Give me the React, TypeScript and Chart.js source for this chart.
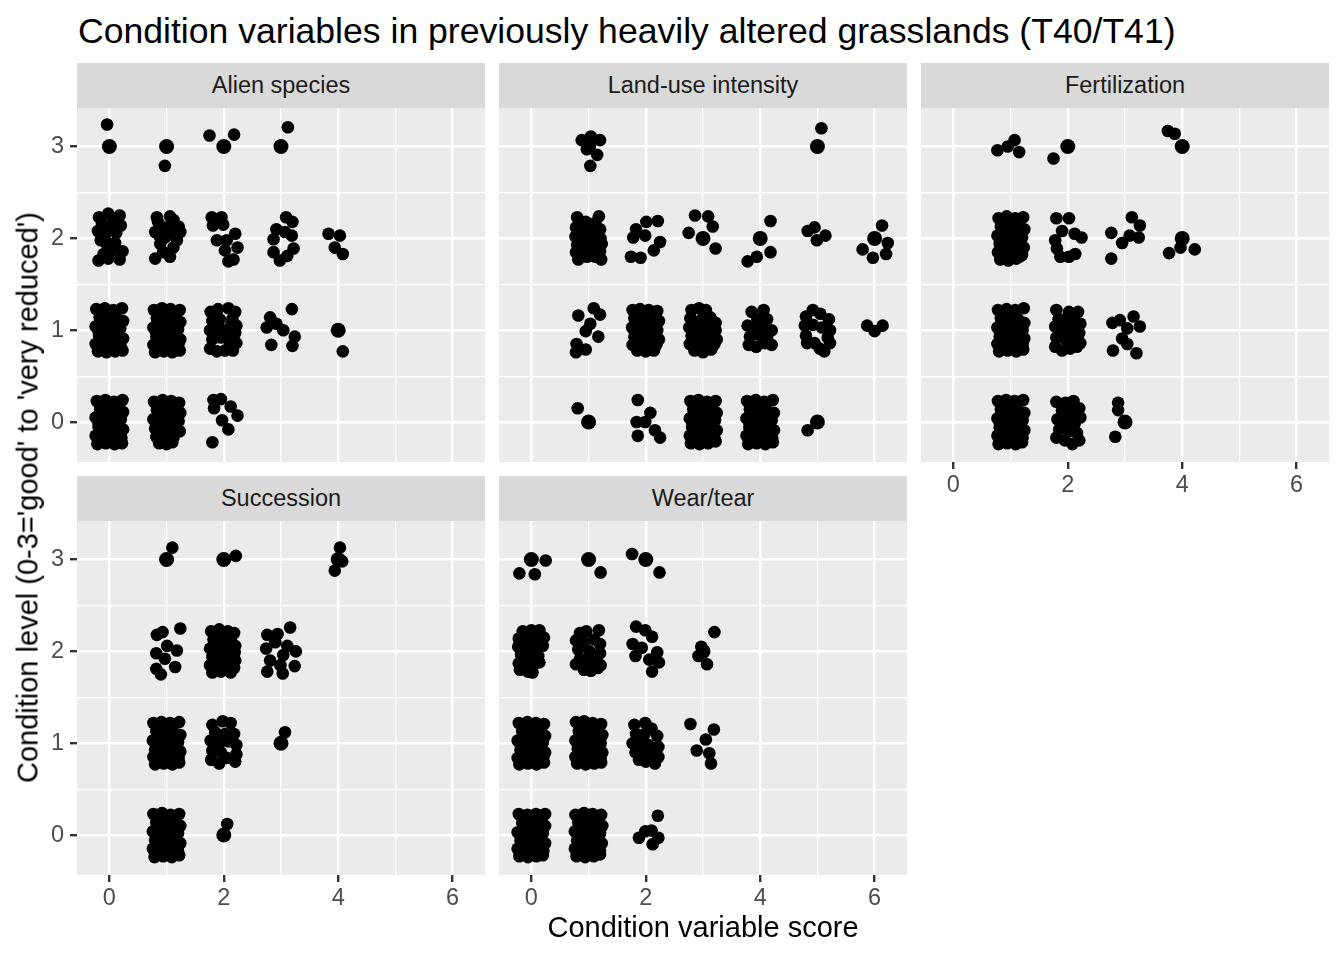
import React, { useEffect, useRef } from "react";
import { Chart, registerables } from "chart.js";

Chart.register(...registerables);

// ---------------- DATA ----------------
const facetNames = ["Alien species", "Land-use intensity", "Fertilization", "Succession", "Wear/tear"];
const xMajorTicks = [0, 2, 4, 6];
const xAllTicks = [0, 1, 2, 3, 4, 5, 6];
const yMajorTicks = [0, 1, 2, 3];
const yAllTicks = [0, 0.5, 1, 1.5, 2, 2.5, 3];
const xRange = [-0.566, 6.566];
const yRange = [-0.435, 3.42];
const titleText = "Condition variables in previously heavily altered grasslands (T40/T41)";
const xTitleText = "Condition variable score";
const yTitleText = "Condition level (0-3='good' to 'very reduced')";

type P = [number, number];

const alienExact: P[] = [[0, 3], [1, 3], [2, 3], [3, 3], [4, 1]];
const alienJitter: P[] = [
  [-0.04, 3.24], [0.97, 2.79], [1.75, 3.12], [2.18, 3.13], [3.12, 3.21],
  [-0.18, 2.23], [-0.02, 2.27], [0.18, 2.25], [-0.13, 2.16], [0.07, 2.18], [-0.15, 1.98], [0.12, 2.06], [-0.05, 1.94], [0.23, 1.86], [0.04, 1.87], [-0.19, 1.76], [-0.02, 1.78], [0.18, 1.77], [-0.1, 1.83],
  [0.0, 2.1], [-0.2, 2.08], [0.2, 2.14], [0.1, 1.95], [-0.08, 2.02],
  [0.83, 2.23], [1.06, 2.24], [1.21, 2.13], [0.8, 2.07], [0.94, 2.12], [1.18, 1.98], [0.89, 1.94], [1.12, 1.9], [0.8, 1.78], [1.06, 1.8], [0.97, 2.01], [1.24, 2.07],
  [0.85, 2.18], [1.12, 2.2], [1.03, 2.12], [0.88, 2.02], [1.15, 2.05], [0.94, 1.85],
  [1.79, 2.23], [1.96, 2.23], [1.81, 2.14], [1.99, 2.15], [1.88, 1.98], [2.05, 1.98], [2.2, 2.05], [2.24, 1.9], [2.08, 1.75], [2.17, 1.77], [2.02, 1.87],
  [3.09, 2.23], [3.2, 2.18], [2.92, 2.1], [3.07, 2.07], [2.87, 1.99], [3.19, 2.03], [3.22, 1.89], [2.87, 1.85], [2.98, 1.76], [3.11, 1.81],
  [3.83, 2.05], [4.03, 2.03], [3.94, 1.9], [4.08, 1.83],
  [-0.23, 1.23], [-0.08, 1.24], [0.07, 1.22], [0.22, 1.24], [-0.17, 1.14], [-0.02, 1.15], [0.13, 1.13], [0.24, 1.1], [-0.24, 1.04], [-0.1, 1.05], [0.05, 1.03], [0.19, 1.02], [-0.18, 0.94], [-0.03, 0.95], [0.12, 0.93], [0.24, 0.91], [-0.24, 0.85], [-0.09, 0.86], [0.06, 0.84], [0.2, 0.82], [-0.2, 0.77], [-0.05, 0.76], [0.1, 0.77], [0.23, 0.78],
  [-0.13, 1.09], [0.02, 1.09], [0.17, 1.08], [-0.19, 0.99], [-0.05, 0.99], [0.1, 0.99], [-0.16, 1.19], [0.15, 0.8],
  [0.78, 1.22], [0.92, 1.24], [1.07, 1.23], [1.23, 1.22], [0.83, 1.13], [0.98, 1.15], [1.12, 1.12], [1.24, 1.09], [0.77, 1.03], [0.9, 1.05], [1.05, 1.02], [1.2, 1.01], [0.82, 0.93], [0.97, 0.95], [1.13, 0.92], [1.24, 0.9], [0.77, 0.84], [0.91, 0.86], [1.06, 0.83], [1.21, 0.85], [0.8, 0.76], [0.95, 0.77], [1.1, 0.76], [1.23, 0.78],
  [0.87, 1.09], [1.02, 1.09], [1.17, 1.08], [0.81, 0.99], [0.95, 0.99], [1.1, 0.99], [0.84, 1.19], [1.15, 0.8],
  [1.77, 1.2], [1.9, 1.23], [2.08, 1.24], [2.2, 1.2], [1.8, 1.1], [1.93, 1.12], [2.15, 1.12], [2.22, 1.05], [1.76, 1.0], [1.92, 1.03], [2.06, 1.0], [2.2, 0.97], [1.8, 0.9], [1.95, 0.92], [2.1, 0.88], [2.22, 0.86], [1.76, 0.8], [1.88, 0.77], [2.02, 0.78], [2.16, 0.78],
  [1.87, 1.05], [2.13, 1.06], [1.82, 0.96], [1.98, 0.96], [2.13, 0.95], [2.08, 0.8],
  [2.81, 1.14], [2.92, 1.07], [3.04, 1.0], [2.75, 1.03], [3.19, 1.23], [3.24, 0.93], [3.2, 0.83], [2.83, 0.84],
  [4.08, 0.77],
  [-0.22, 0.23], [-0.07, 0.24], [0.08, 0.22], [0.23, 0.24], [-0.16, 0.14], [-0.01, 0.15], [0.14, 0.13], [0.24, 0.11], [-0.24, 0.05], [-0.1, 0.04], [0.05, 0.03], [0.2, 0.03], [-0.19, -0.05], [-0.04, -0.06], [0.11, -0.05], [0.24, -0.08], [-0.24, -0.15], [-0.08, -0.14], [0.07, -0.16], [0.21, -0.17], [-0.21, -0.24], [-0.06, -0.23], [0.09, -0.24], [0.22, -0.23],
  [-0.13, 0.09], [0.02, 0.09], [0.17, 0.08], [-0.19, -0.01], [-0.05, -0.01], [0.1, -0.01], [-0.16, 0.19], [0.15, -0.2],
  [0.78, 0.22], [0.93, 0.24], [1.08, 0.23], [1.22, 0.21], [0.83, 0.13], [0.98, 0.15], [1.13, 0.12], [1.24, 0.1], [0.77, 0.03], [0.91, 0.05], [1.06, 0.02], [1.21, 0.01], [0.8, -0.07], [0.95, -0.05], [1.1, -0.08], [1.23, -0.1], [0.82, -0.16], [0.97, -0.15], [1.12, -0.17], [0.87, -0.23], [1.0, -0.24], [1.1, -0.22],
  [0.87, 0.09], [1.02, 0.09], [1.17, 0.08], [0.81, -0.01], [0.95, -0.01], [1.1, -0.01], [0.84, 0.19], [1.05, -0.2],
  [1.82, 0.24], [1.95, 0.25], [2.12, 0.17], [2.24, 0.07], [1.97, 0.02], [2.08, -0.08], [1.8, -0.22], [1.83, 0.15],
];

const landExact: P[] = [[1, 3], [5, 3], [3, 2], [4, 2], [6, 2], [1, 0], [5, 0]];
const landJitter: P[] = [
  [0.88, 3.07], [1.04, 3.11], [1.2, 3.07], [0.97, 2.97], [1.15, 2.91], [1.03, 2.79], [5.07, 3.2],
  [0.8, 2.23], [1.18, 2.24], [0.95, 2.18], [0.78, 2.12], [0.9, 2.13], [1.05, 2.12], [1.2, 2.1], [0.77, 2.02], [0.92, 2.03], [1.07, 2.01], [1.21, 2.0], [0.8, 1.93], [0.95, 1.95], [1.1, 1.92], [1.23, 1.94], [0.78, 1.85], [0.93, 1.86], [1.08, 1.84], [1.2, 1.86], [0.82, 1.77], [0.97, 1.8], [1.22, 1.77],
  [0.87, 2.07], [1.02, 2.07], [1.15, 2.06], [0.86, 1.97], [1.0, 1.98], [1.15, 1.98], [1.12, 2.17], [1.12, 1.8],
  [2.01, 2.18], [2.21, 2.19], [1.83, 2.1], [1.78, 2.01], [1.99, 2.03], [2.25, 1.96], [2.14, 1.87], [1.74, 1.8], [1.91, 1.79],
  [2.86, 2.25], [3.09, 2.24], [3.17, 2.13], [2.75, 2.06], [3.22, 1.89],
  [4.18, 2.19], [4.18, 1.85], [3.94, 1.8], [3.78, 1.75],
  [4.83, 2.08], [4.95, 2.12], [5.14, 2.03], [4.99, 1.98],
  [6.13, 2.14], [6.23, 1.95], [5.79, 1.88], [5.97, 1.79], [6.2, 1.83],
  [0.82, 1.16], [1.09, 1.24], [1.2, 1.17], [1.03, 1.07], [0.95, 0.99], [1.17, 0.93], [0.79, 0.85], [0.95, 0.79], [0.78, 0.76],
  [1.77, 1.22], [1.9, 1.23], [2.05, 1.22], [2.2, 1.21], [1.8, 1.13], [1.95, 1.14], [2.1, 1.12], [2.23, 1.1], [1.76, 1.03], [1.9, 1.05], [2.05, 1.02], [2.2, 1.0], [1.8, 0.93], [1.95, 0.95], [2.1, 0.92], [2.23, 0.9], [1.77, 0.84], [1.91, 0.86], [2.06, 0.83], [2.19, 0.85], [1.85, 0.78], [2.0, 0.77], [2.14, 0.78],
  [1.87, 1.09], [2.02, 1.09], [2.17, 1.08], [1.81, 0.99], [1.95, 0.99], [2.1, 0.99], [1.84, 1.19], [2.15, 0.8],
  [2.8, 1.22], [2.93, 1.24], [3.05, 1.22], [2.78, 1.13], [2.98, 1.12], [3.13, 1.14], [3.22, 1.08], [2.76, 1.03], [2.9, 1.05], [3.05, 1.02], [3.22, 1.0], [2.8, 0.94], [2.95, 0.95], [3.1, 0.92], [3.24, 0.9], [2.77, 0.85], [2.91, 0.86], [3.06, 0.83], [3.2, 0.85], [2.85, 0.78], [3.0, 0.76], [3.14, 0.79],
  [2.87, 1.09], [3.02, 1.09], [3.17, 1.08], [2.81, 0.99], [2.95, 0.99], [3.1, 0.99], [3.15, 0.8],
  [3.85, 1.2], [4.06, 1.22], [3.95, 1.12], [4.12, 1.12], [3.78, 1.05], [3.9, 1.02], [4.05, 1.04], [4.2, 1.0], [3.82, 0.93], [3.98, 0.95], [4.12, 0.92], [3.8, 0.84], [3.93, 0.82], [4.08, 0.86], [4.2, 0.84],
  [4.92, 1.22], [5.05, 1.18], [4.8, 1.15], [5.2, 1.12], [4.78, 1.05], [4.92, 1.06], [5.08, 1.03], [5.22, 1.0], [4.8, 0.94], [5.18, 0.92], [5.22, 0.86], [4.82, 0.86], [4.95, 0.86], [5.04, 0.8], [5.12, 0.77],
  [5.87, 1.05], [6.0, 0.99], [6.14, 1.05],
  [0.81, 0.15],
  [1.86, 0.24], [2.08, 0.1], [1.84, 0.0], [1.99, 0.0], [2.16, -0.09], [1.86, -0.15], [2.25, -0.17],
  [2.78, 0.23], [2.92, 0.24], [3.07, 0.22], [3.22, 0.23], [2.83, 0.14], [2.98, 0.15], [3.13, 0.13], [3.24, 0.1], [2.77, 0.04], [2.91, 0.05], [3.06, 0.03], [3.21, 0.02], [2.81, -0.06], [2.96, -0.05], [3.11, -0.07], [3.24, -0.09], [2.77, -0.15], [2.91, -0.14], [3.06, -0.16], [3.2, -0.17], [2.79, -0.23], [2.94, -0.24], [3.09, -0.23], [3.22, -0.21],
  [2.87, 0.09], [3.02, 0.09], [3.17, 0.08], [2.81, -0.01], [2.95, -0.01], [3.1, -0.01], [2.84, 0.19], [3.15, -0.2],
  [3.77, 0.23], [3.92, 0.24], [4.07, 0.22], [4.22, 0.24], [3.82, 0.14], [3.97, 0.15], [4.12, 0.13], [4.24, 0.1], [3.76, 0.04], [3.9, 0.05], [4.05, 0.03], [4.2, 0.02], [3.81, -0.06], [3.96, -0.05], [4.11, -0.07], [4.24, -0.09], [3.76, -0.15], [3.91, -0.14], [4.06, -0.16], [4.21, -0.17], [3.79, -0.24], [3.94, -0.23], [4.09, -0.24], [4.22, -0.22],
  [3.87, 0.09], [4.02, 0.09], [4.17, 0.08], [3.81, -0.01], [3.95, -0.01], [4.1, -0.01], [3.84, 0.19], [4.15, -0.2],
  [4.83, -0.09],
];

const fertExact: P[] = [[2, 3], [4, 3], [4, 2], [3, 0]];
const fertJitter: P[] = [
  [0.77, 2.96], [0.95, 3.0], [1.07, 3.07], [1.15, 2.94], [1.75, 2.87], [3.75, 3.17], [3.87, 3.14],
  [0.79, 2.22], [0.93, 2.24], [1.08, 2.22], [1.22, 2.23], [0.83, 2.13], [0.98, 2.15], [1.13, 2.12], [1.24, 2.1], [0.77, 2.03], [0.91, 2.05], [1.06, 2.02], [1.2, 2.01], [0.81, 1.94], [0.96, 1.95], [1.11, 1.93], [1.23, 1.9], [0.78, 1.85], [0.92, 1.86], [1.07, 1.84], [1.2, 1.82], [0.82, 1.77], [0.96, 1.76], [1.1, 1.78],
  [0.87, 2.09], [1.02, 2.09], [1.17, 2.08], [0.81, 1.99], [0.95, 1.99], [1.1, 1.99], [0.84, 2.19], [1.15, 1.8],
  [1.8, 2.22], [2.02, 2.22], [1.9, 2.08], [2.12, 2.05], [2.24, 2.01], [1.78, 1.98], [1.81, 1.89], [2.13, 1.83], [1.87, 1.8], [2.02, 1.8],
  [2.76, 2.06], [2.95, 1.95], [3.08, 2.03], [3.12, 2.23], [3.26, 2.14], [3.24, 2.01], [2.76, 1.78],
  [3.97, 1.9], [3.77, 1.84], [4.22, 1.88],
  [0.78, 1.22], [0.93, 1.23], [1.08, 1.22], [1.23, 1.24], [0.83, 1.13], [0.98, 1.14], [1.13, 1.12], [1.24, 1.08], [0.77, 1.03], [0.91, 1.05], [1.06, 1.02], [1.21, 1.0], [0.81, 0.93], [0.96, 0.95], [1.11, 0.92], [1.24, 0.91], [0.77, 0.85], [0.92, 0.86], [1.07, 0.83], [1.21, 0.84], [0.8, 0.77], [0.95, 0.78], [1.1, 0.77], [1.22, 0.79],
  [0.87, 1.09], [1.02, 1.09], [1.17, 1.08], [0.81, 0.99], [0.95, 0.99], [1.1, 0.99], [0.84, 1.19], [1.15, 0.8],
  [1.8, 1.22], [2.02, 1.2], [2.18, 1.2], [1.95, 1.12], [2.1, 1.1], [2.22, 1.07], [1.78, 1.04], [1.9, 1.0], [2.05, 1.02], [2.2, 0.97], [1.8, 0.92], [1.96, 0.9], [2.12, 0.88], [2.22, 0.86], [1.78, 0.82], [1.9, 0.78], [2.04, 0.8], [2.16, 0.82],
  [1.84, 1.12], [1.98, 0.98], [2.06, 0.92],
  [2.78, 1.08], [2.91, 1.11], [3.04, 1.02], [3.15, 1.15], [3.26, 1.04], [2.95, 0.91], [2.79, 0.78], [3.2, 0.75], [3.04, 0.85],
  [0.78, 0.23], [0.92, 0.24], [1.07, 0.23], [1.22, 0.24], [0.83, 0.14], [0.98, 0.15], [1.13, 0.13], [1.24, 0.1], [0.77, 0.04], [0.91, 0.05], [1.06, 0.03], [1.21, 0.02], [0.81, -0.06], [0.96, -0.05], [1.11, -0.07], [1.24, -0.09], [0.77, -0.15], [0.91, -0.14], [1.06, -0.16], [1.21, -0.17], [0.79, -0.24], [0.94, -0.23], [1.09, -0.24], [1.2, -0.22],
  [0.87, 0.09], [1.02, 0.09], [1.17, 0.08], [0.81, -0.01], [0.95, -0.01], [1.1, -0.01], [0.84, 0.19], [1.15, -0.2],
  [1.8, 0.22], [1.96, 0.21], [2.1, 0.23], [2.2, 0.15], [1.9, 0.12], [2.05, 0.1], [2.22, 0.05], [1.82, 0.03], [1.96, 0.0], [2.12, -0.02], [1.85, -0.08], [2.02, -0.1], [2.16, -0.12], [1.8, -0.17], [1.95, -0.2], [2.08, -0.24], [2.2, -0.2],
  [2.88, 0.21], [2.88, 0.13], [2.83, -0.16],
];

const succExact: P[] = [[1, 3], [2, 3], [4, 3], [3, 1], [2, 0]];
const succJitter: P[] = [
  [1.1, 3.13], [2.21, 3.04], [4.03, 3.13], [4.07, 2.98], [3.94, 2.88],
  [0.83, 2.18], [0.93, 2.21], [1.24, 2.25], [1.01, 2.06], [0.82, 1.98], [1.18, 2.01], [0.97, 1.92], [1.15, 1.83], [0.82, 1.81], [0.9, 1.75],
  [1.78, 2.22], [1.92, 2.24], [2.07, 2.22], [2.18, 2.2], [1.82, 2.13], [1.97, 2.14], [2.12, 2.12], [2.2, 2.06], [1.76, 2.03], [1.9, 2.05], [2.05, 2.02], [2.19, 1.99], [1.8, 1.94], [1.95, 1.95], [2.1, 1.92], [2.2, 1.9], [1.76, 1.85], [1.9, 1.86], [2.05, 1.84], [2.18, 1.82], [1.8, 1.77], [1.95, 1.78], [2.12, 1.77],
  [1.87, 2.09], [2.02, 2.09], [2.15, 2.08], [1.83, 1.99], [1.97, 1.99], [2.12, 1.99], [1.85, 2.19], [2.05, 1.8],
  [3.16, 2.26], [2.76, 2.18], [2.94, 2.19], [2.74, 2.03], [3.11, 2.06], [3.26, 2.0], [2.81, 1.9], [2.99, 1.85], [3.24, 1.84], [2.76, 1.78], [3.03, 1.76], [2.9, 2.1], [3.04, 1.96],
  [0.77, 1.22], [0.91, 1.23], [1.06, 1.22], [1.22, 1.23], [0.82, 1.13], [0.97, 1.14], [1.12, 1.12], [1.24, 1.09], [0.76, 1.03], [0.9, 1.05], [1.05, 1.02], [1.2, 1.01], [0.8, 0.93], [0.95, 0.95], [1.1, 0.92], [1.24, 0.91], [0.77, 0.85], [0.91, 0.86], [1.06, 0.83], [1.21, 0.84], [0.8, 0.77], [0.95, 0.78], [1.1, 0.77], [1.22, 0.79],
  [0.87, 1.09], [1.02, 1.09], [1.17, 1.08], [0.81, 0.99], [0.95, 0.99], [1.1, 0.99], [0.84, 1.19], [1.15, 0.8],
  [1.8, 1.2], [1.98, 1.24], [2.12, 1.22], [1.85, 1.12], [2.02, 1.1], [2.18, 1.1], [1.77, 1.03], [1.92, 1.0], [2.08, 1.02], [2.22, 0.98], [1.8, 0.92], [1.95, 0.9], [2.22, 0.88], [1.78, 0.82], [1.92, 0.78], [2.05, 0.84], [2.2, 0.8],
  [3.07, 1.12],
  [0.77, 0.23], [0.92, 0.24], [1.07, 0.22], [1.22, 0.23], [0.82, 0.14], [0.97, 0.15], [1.12, 0.13], [1.24, 0.1], [0.76, 0.04], [0.9, 0.05], [1.05, 0.03], [1.2, 0.02], [0.8, -0.06], [0.95, -0.05], [1.1, -0.07], [1.24, -0.09], [0.76, -0.15], [0.9, -0.14], [1.05, -0.16], [1.2, -0.17], [0.79, -0.24], [0.94, -0.23], [1.09, -0.24], [1.22, -0.22],
  [0.87, 0.09], [1.02, 0.09], [1.17, 0.08], [0.81, -0.01], [0.95, -0.01], [1.1, -0.01], [0.84, 0.19], [1.15, -0.2],
  [2.06, 0.12],
];

const wearExact: P[] = [[0, 3], [1, 3], [2, 3], [3, 2]];
const wearJitter: P[] = [
  [0.25, 2.99], [-0.21, 2.85], [0.06, 2.84], [1.21, 2.86], [1.76, 3.06], [2.24, 2.86],
  [-0.15, 2.22], [0.0, 2.23], [0.14, 2.23], [-0.22, 2.14], [-0.06, 2.15], [0.1, 2.13], [0.22, 2.15], [-0.23, 2.05], [-0.08, 2.06], [0.08, 2.04], [0.2, 2.06], [-0.18, 1.96], [-0.02, 1.97], [0.12, 1.95], [-0.22, 1.87], [-0.08, 1.86], [0.06, 1.87], [0.14, 1.88], [-0.2, 1.8], [-0.06, 1.78], [0.02, 1.77],
  [-0.14, 2.1], [0.02, 2.09], [0.16, 2.1], [-0.1, 1.92], [0.05, 1.92],
  [0.85, 2.2], [0.96, 2.22], [1.18, 2.23], [0.78, 2.12], [0.92, 2.1], [1.1, 2.13], [1.2, 2.08], [0.82, 2.02], [1.02, 2.0], [1.2, 1.98], [0.85, 1.92], [0.97, 1.9], [1.1, 1.88], [1.21, 1.85], [0.78, 1.86], [0.92, 1.8], [1.04, 1.79], [1.16, 1.82],
  [1.83, 2.27], [1.99, 2.23], [2.11, 2.16], [1.77, 2.08], [1.93, 2.04], [1.82, 1.95], [2.2, 1.99], [2.06, 1.91], [2.23, 1.88], [2.11, 1.78],
  [3.2, 2.21], [2.97, 2.05], [2.92, 1.95], [3.07, 1.86],
  [-0.22, 1.22], [-0.07, 1.23], [0.08, 1.22], [0.22, 1.21], [-0.16, 1.13], [-0.01, 1.14], [0.14, 1.12], [0.24, 1.08], [-0.24, 1.03], [-0.1, 1.05], [0.05, 1.02], [0.2, 1.01], [-0.19, 0.93], [-0.04, 0.95], [0.11, 0.92], [0.24, 0.9], [-0.24, 0.84], [-0.08, 0.86], [0.07, 0.83], [0.21, 0.85], [-0.21, 0.77], [-0.06, 0.78], [0.09, 0.77], [0.22, 0.79],
  [-0.13, 1.09], [0.02, 1.09], [0.17, 1.08], [-0.19, 0.99], [-0.05, 0.99], [0.1, 0.99], [-0.16, 1.19], [0.15, 0.8],
  [0.78, 1.23], [0.92, 1.24], [1.07, 1.22], [1.22, 1.21], [0.83, 1.13], [0.98, 1.15], [1.13, 1.12], [1.24, 1.09], [0.77, 1.03], [0.91, 1.05], [1.06, 1.02], [1.21, 1.0], [0.81, 0.94], [0.96, 0.95], [1.11, 0.92], [1.24, 0.9], [0.77, 0.85], [0.91, 0.86], [1.06, 0.83], [1.21, 0.84], [0.8, 0.78], [0.95, 0.77], [1.1, 0.78], [1.22, 0.79],
  [0.87, 1.09], [1.02, 1.09], [1.17, 1.08], [0.81, 0.99], [0.95, 0.99], [1.1, 0.99], [0.84, 1.19], [1.15, 0.8],
  [1.8, 1.2], [1.99, 1.22], [2.1, 1.16], [1.83, 1.1], [1.98, 1.1], [2.2, 1.08], [1.77, 1.0], [1.9, 1.0], [2.05, 0.98], [2.22, 0.96], [1.82, 0.9], [1.96, 0.88], [2.1, 0.9], [2.22, 0.85], [1.88, 0.82], [2.0, 0.8], [2.16, 0.78],
  [2.78, 1.21], [3.19, 1.15], [3.05, 1.04], [2.89, 0.92], [3.11, 0.89], [3.14, 0.78],
  [-0.22, 0.23], [-0.07, 0.22], [0.08, 0.23], [0.24, 0.23], [-0.16, 0.13], [-0.01, 0.15], [0.14, 0.12], [0.24, 0.1], [-0.24, 0.03], [-0.1, 0.05], [0.05, 0.02], [0.2, 0.02], [-0.19, -0.06], [-0.04, -0.05], [0.11, -0.07], [0.24, -0.09], [-0.24, -0.15], [-0.09, -0.14], [0.06, -0.16], [0.21, -0.17], [-0.21, -0.23], [-0.06, -0.24], [0.09, -0.23], [0.2, -0.22],
  [-0.13, 0.09], [0.02, 0.09], [0.17, 0.08], [-0.19, -0.01], [-0.05, -0.01], [0.1, -0.01], [-0.16, 0.19], [0.15, -0.2],
  [0.77, 0.22], [0.92, 0.24], [1.07, 0.23], [1.22, 0.22], [0.82, 0.14], [0.97, 0.15], [1.12, 0.13], [1.24, 0.1], [0.76, 0.04], [0.9, 0.05], [1.05, 0.03], [1.2, 0.02], [0.8, -0.06], [0.95, -0.05], [1.1, -0.07], [1.23, -0.09], [0.76, -0.15], [0.9, -0.14], [1.05, -0.16], [1.2, -0.17], [0.79, -0.23], [0.94, -0.24], [1.09, -0.23], [1.2, -0.21],
  [0.87, 0.09], [1.02, 0.09], [1.17, 0.08], [0.81, -0.01], [0.95, -0.01], [1.1, -0.01], [0.84, 0.19], [1.15, -0.2],
  [2.21, 0.21], [1.88, -0.03], [1.99, 0.04], [2.1, 0.05], [2.22, -0.03], [2.12, -0.1],
];

const panelJitter = [alienJitter, landJitter, fertJitter, succJitter, wearJitter];
const panelExact = [alienExact, landExact, fertExact, succExact, wearExact];

// ---------------- LAYOUT / STYLE ----------------
const FONT = '"Liberation Sans", Arial, Helvetica, sans-serif';
const PANEL_W = 408;
const PANEL_H = 354;
const STRIP_H = 45;
const COL_X = [77, 499, 921];
const ROW_Y = [108, 521];
const AX_L = 70;
const AX_B = 45;
const TICK_FONT = 23.5;
const JITTER_R = 6.3;
const EXACT_R = 7.5;

const panelLayout = [
  { col: 0, row: 0, showX: false, showY: true },
  { col: 1, row: 0, showX: false, showY: false },
  { col: 2, row: 0, showX: true, showY: false },
  { col: 0, row: 1, showX: true, showY: true },
  { col: 1, row: 1, showX: true, showY: false },
];

const bgPlugin = {
  id: "panelBg",
  beforeDraw(chart: any) {
    const { ctx, chartArea: a } = chart;
    ctx.save();
    ctx.fillStyle = "#EBEBEB";
    ctx.fillRect(a.left, a.top, a.right - a.left, a.bottom - a.top);
    ctx.restore();
  },
};

function zeroPadding(s: any) {
  s.paddingTop = 0;
  s.paddingBottom = 0;
  s.paddingLeft = 0;
  s.paddingRight = 0;
}

function Panel({ idx }: { idx: number }) {
  const ref = useRef<HTMLCanvasElement>(null);
  const lay = panelLayout[idx];
  const axL = lay.showY ? AX_L : 0;
  const axB = lay.showX ? AX_B : 0;
  const w = PANEL_W + axL;
  const h = PANEL_H + axB;

  useEffect(() => {
    const isMajorX = (v: number) => xMajorTicks.includes(v);
    const isMajorY = (v: number) => yMajorTicks.includes(v);
    const chart = new Chart(ref.current as HTMLCanvasElement, {
      type: "scatter",
      data: {
        datasets: [
          {
            data: panelJitter[idx].map(([x, y]) => ({ x, y })),
            pointRadius: JITTER_R,
            pointHoverRadius: JITTER_R,
            pointBackgroundColor: "#000000",
            pointBorderWidth: 0,
            pointBorderColor: "#000000",
          },
          {
            data: panelExact[idx].map(([x, y]) => ({ x, y })),
            pointRadius: EXACT_R,
            pointHoverRadius: EXACT_R,
            pointBackgroundColor: "#000000",
            pointBorderWidth: 0,
            pointBorderColor: "#000000",
          },
        ],
      },
      options: {
        animation: false,
        responsive: false,
        events: [],
        layout: { padding: 0, autoPadding: false },
        plugins: { legend: { display: false }, tooltip: { enabled: false }, title: { display: false } },
        scales: {
          x: {
            type: "linear",
            position: "bottom",
            min: xRange[0],
            max: xRange[1],
            afterBuildTicks: (s: any) => {
              s.ticks = xAllTicks.map((v) => ({ value: v }));
            },
            afterFit: (s: any) => {
              s.height = axB;
              zeroPadding(s);
            },
            ticks: {
              display: lay.showX,
              autoSkip: false,
              maxRotation: 0,
              minRotation: 0,
              padding: 2,
              color: "#4D4D4D",
              font: { family: FONT, size: TICK_FONT },
              callback: (v: any) => (isMajorX(Number(v)) ? String(v) : ""),
            },
            grid: {
              color: "#FFFFFF",
              lineWidth: (c: any) => (c.tick && isMajorX(c.tick.value) ? 2.4 : 1.2),
              drawTicks: lay.showX,
              tickLength: 7,
              tickWidth: 2.4,
              tickColor: (c: any) => (c.tick && isMajorX(c.tick.value) ? "#333333" : "rgba(0,0,0,0)"),
            },
            border: { display: false },
          },
          y: {
            type: "linear",
            position: "left",
            min: yRange[0],
            max: yRange[1],
            afterBuildTicks: (s: any) => {
              s.ticks = yAllTicks.map((v) => ({ value: v }));
            },
            afterFit: (s: any) => {
              s.width = axL;
              zeroPadding(s);
            },
            ticks: {
              display: lay.showY,
              autoSkip: false,
              padding: 6,
              color: "#4D4D4D",
              font: { family: FONT, size: TICK_FONT },
              callback: (v: any) => (isMajorY(Number(v)) ? String(v) : ""),
            },
            grid: {
              color: "#FFFFFF",
              lineWidth: (c: any) => (c.tick && isMajorY(c.tick.value) ? 2.4 : 1.2),
              drawTicks: lay.showY,
              tickLength: 7,
              tickWidth: 2.4,
              tickColor: (c: any) => (c.tick && isMajorY(c.tick.value) ? "#333333" : "rgba(0,0,0,0)"),
            },
            border: { display: false },
          },
        },
      } as any,
      plugins: [bgPlugin],
    });
    return () => chart.destroy();
  }, [idx]);

  const left = COL_X[lay.col] - axL;
  const top = ROW_Y[lay.row];
  return (
    <canvas
      ref={ref}
      width={w}
      height={h}
      style={{ position: "absolute", left, top, width: w, height: h }}
    />
  );
}

export default function App() {
  return (
    <div
      style={{
        position: "absolute",
        left: 0,
        top: 0,
        width: 1344,
        height: 960,
        background: "#FFFFFF",
        overflow: "hidden",
        fontFamily: FONT,
      }}
    >
      <div
        style={{
          position: "absolute",
          left: 78,
          top: 13,
          fontSize: 35.6,
          lineHeight: "36px",
          color: "#000000",
          whiteSpace: "nowrap",
        }}
      >
        {titleText}
      </div>

      {panelLayout.map((lay, i) => (
        <div
          key={"strip" + i}
          style={{
            position: "absolute",
            left: COL_X[lay.col],
            top: ROW_Y[lay.row] - STRIP_H,
            width: PANEL_W,
            height: STRIP_H,
            background: "#D9D9D9",
            color: "#1A1A1A",
            fontSize: TICK_FONT,
            lineHeight: STRIP_H + "px",
            textAlign: "center",
            whiteSpace: "nowrap",
          }}
        >
          {facetNames[i]}
        </div>
      ))}

      {panelLayout.map((_, i) => (
        <Panel key={"panel" + i} idx={i} />
      ))}

      <div
        style={{
          position: "absolute",
          left: 703 - 400,
          top: 913,
          width: 800,
          fontSize: 29,
          lineHeight: "29px",
          textAlign: "center",
          color: "#000000",
          whiteSpace: "nowrap",
        }}
      >
        {xTitleText}
      </div>

      <div
        style={{
          position: "absolute",
          left: 28 - 350,
          top: 497 - 14.5,
          width: 700,
          height: 29,
          fontSize: 29,
          lineHeight: "29px",
          textAlign: "center",
          color: "#000000",
          whiteSpace: "nowrap",
          transform: "rotate(-90deg)",
          transformOrigin: "50% 50%",
        }}
      >
        {yTitleText}
      </div>
    </div>
  );
}
